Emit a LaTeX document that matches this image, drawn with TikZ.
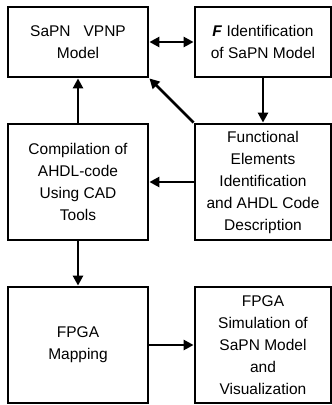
\documentclass[tikz,border=0pt]{standalone}
\usepackage{fontspec}
\setmainfont{Liberation Sans}
\usetikzlibrary{arrows.meta}

\tikzset{
  blk/.style={draw,line width=2.8pt,align=center,inner sep=0pt,
    font=\fontsize{15.5}{22}\selectfont},
  arr/.style={line width=2.8pt,-{Triangle[length=10pt,width=10pt]}},
}

\begin{document}
\begin{tikzpicture}[x=1pt,y=-1pt]
  \useasboundingbox (0,0) rectangle (332,405);
  \node[blk,minimum width=140pt,minimum height=70pt] (sapn) at (78,42) {SaPN\ \ \ VPNP\\Model};
  \node[blk,minimum width=136pt,minimum height=70pt] (fid) at (263,42) {\textbf{\textit{F}}\ Identification\\of SaPN Model};
  \node[blk,minimum width=140pt,minimum height=116pt] (comp) at (78,182) {Compilation of\\AHDL-code\\Using CAD\\Tools};
  \node[blk,minimum width=136pt,minimum height=116pt] (func) at (263,182) {Functional\\Elements\\Identification\\and AHDL Code\\Description};
  \node[blk,minimum width=140pt,minimum height=116pt] (map) at (78,345) {FPGA\\Mapping};
  \node[blk,minimum width=136pt,minimum height=116pt] (sim) at (263,345) {FPGA\\Simulation of\\SaPN Model\\and\\Visualization};
  % connectors
  \draw[arr,{Triangle[length=10pt,width=10pt]}-{Triangle[length=10pt,width=10pt]}] (sapn) -- (fid);
  \draw[arr] (fid) -- (func);
  \draw[arr] (func.north west) -- (sapn.south east);
  \draw[arr] (comp) -- (sapn);
  \draw[arr] (func) -- (comp);
  \draw[arr] (comp) -- (map);
  \draw[arr] (map) -- (sim);
\end{tikzpicture}
\end{document}
